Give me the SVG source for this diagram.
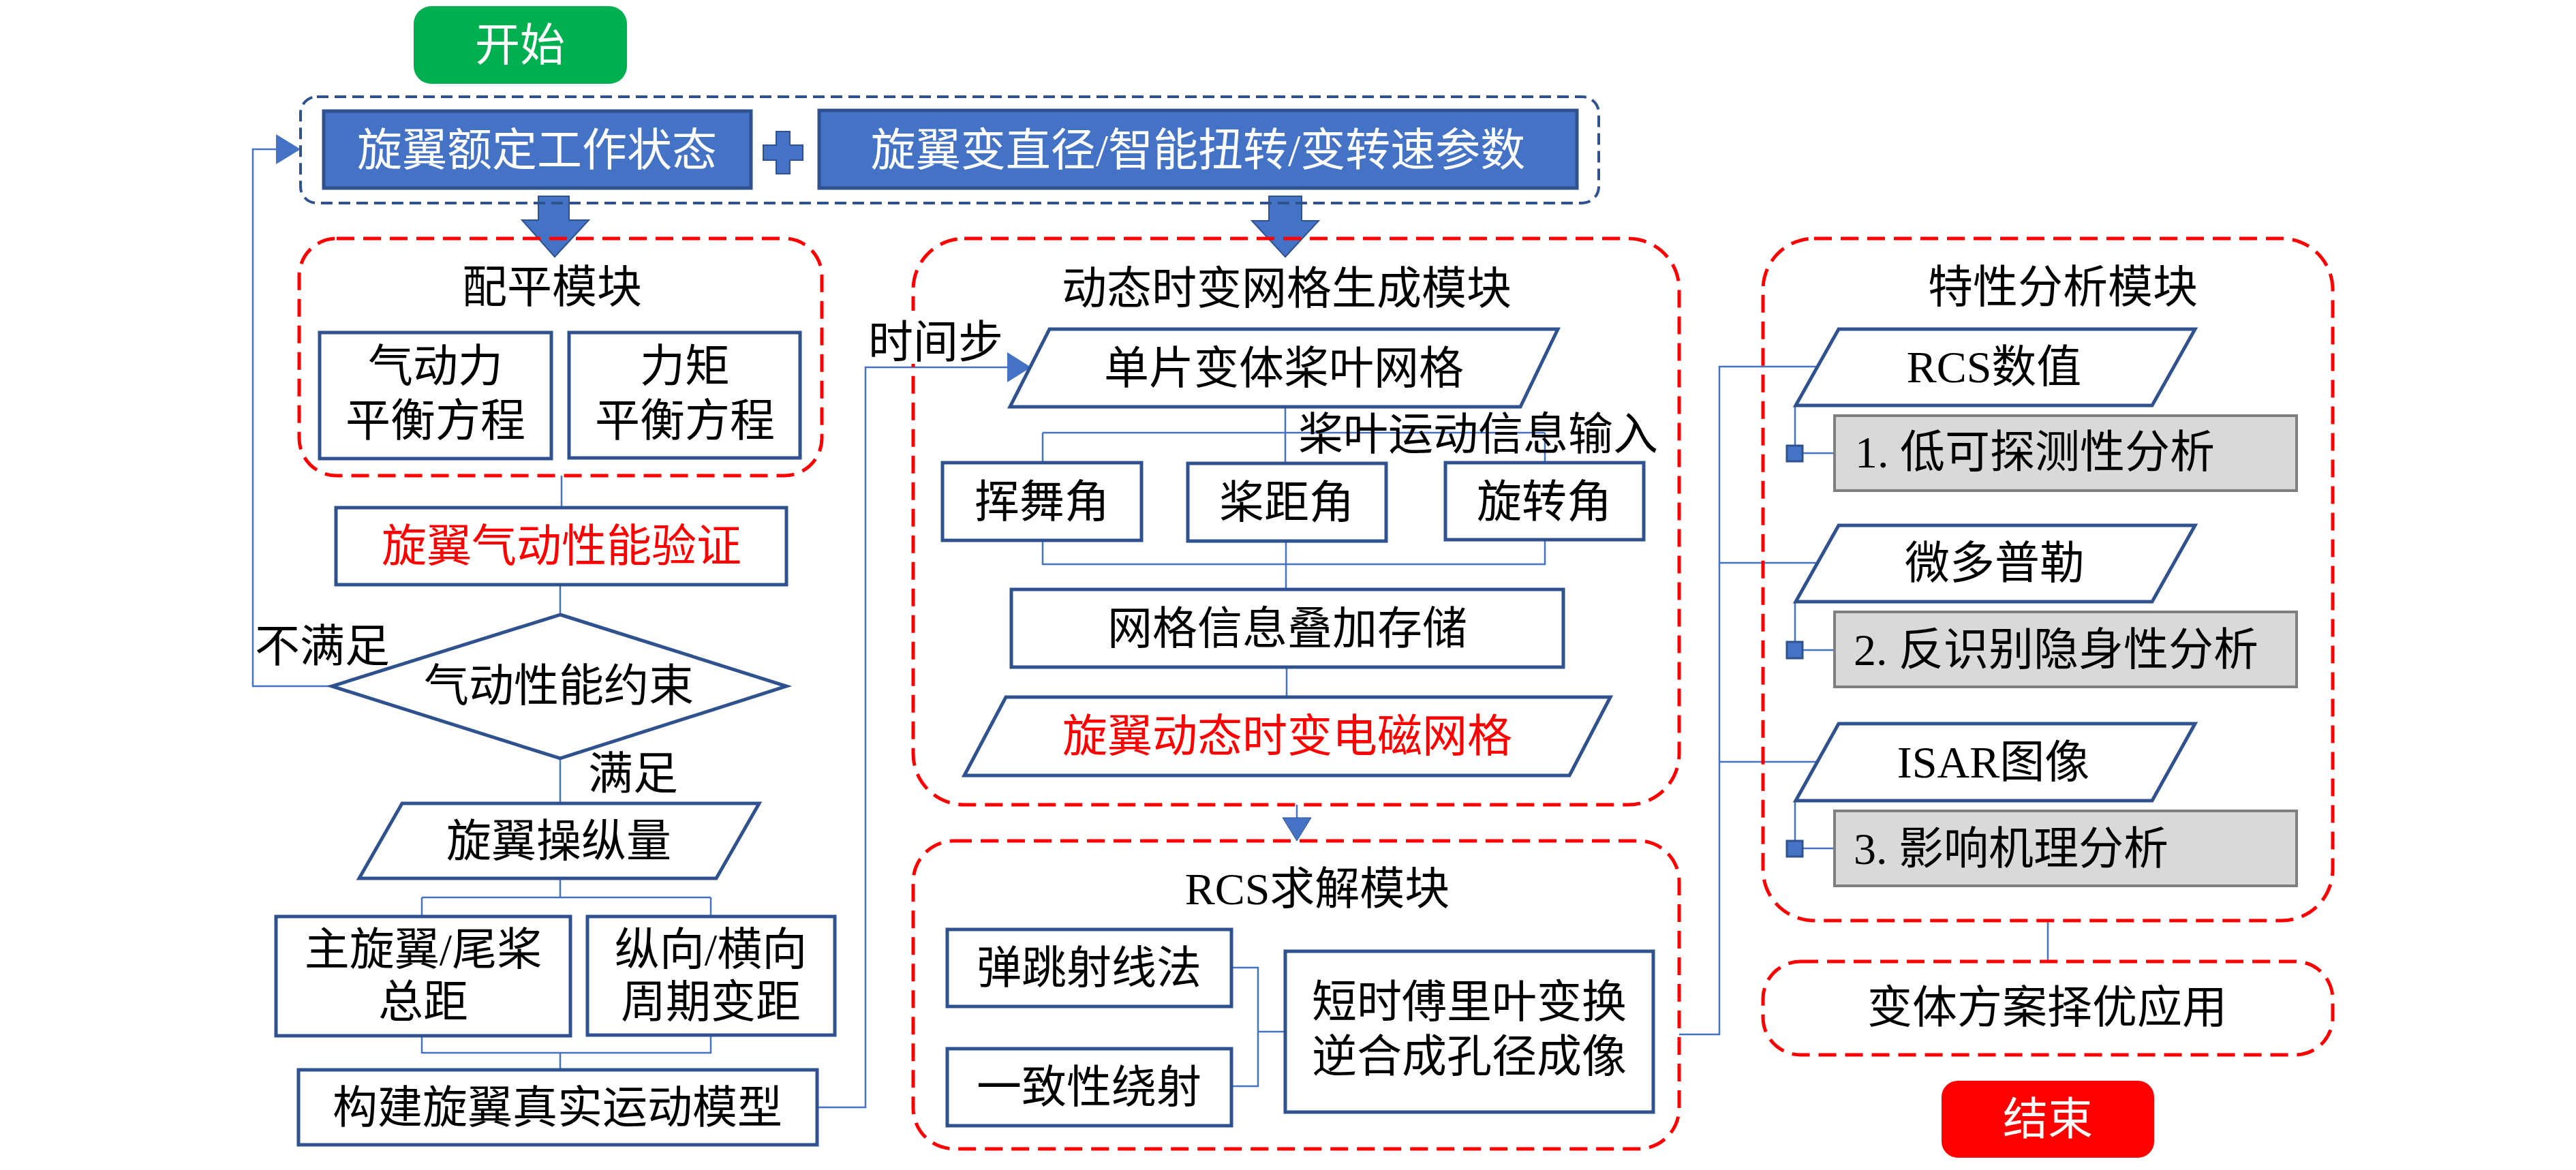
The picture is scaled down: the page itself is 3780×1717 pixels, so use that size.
<svg xmlns="http://www.w3.org/2000/svg" width="3780" height="1717" viewBox="0 0 3780 1717">
<style>
text{font-family:"Liberation Serif","Noto Sans CJK SC",serif;font-size:66px;fill:#000;text-anchor:middle;dominant-baseline:central}
.w{fill:#fff}
.r{fill:#ff0000}
.l{text-anchor:start}
.box{fill:#fff;stroke:#2F528F;stroke-width:5}
.hdr{fill:#4472C4;stroke:#2F528F;stroke-width:5}
.mod{fill:none;stroke:#ff0000;stroke-width:5;stroke-dasharray:26 13}
.gray{fill:#D9D9D9;stroke:#7F7F7F;stroke-width:4}
.sq{fill:#4472C4;stroke:#2F528F;stroke-width:3}
.c{fill:none;stroke:#4472C4;stroke-width:2.5}
.big{fill:#4472C4;stroke:#2F528F;stroke-width:2}
</style>
<rect width="3780" height="1717" fill="#fff"/>

<g id="connectors">
  <path class="c" d="M824 698 V745"/>
  <path class="c" d="M822 858 V902"/>
  <path class="c" d="M822 1113 V1178"/>
  <path class="c" d="M822 1288 V1317 M619 1317 H1043 M619 1317 V1345 M1043 1317 V1345"/>
  <path class="c" d="M619 1520 V1545 H1043 V1519 M822 1545 V1570"/>
  <path class="c" d="M487 1007 H371 V219 H405"/>
  <polygon fill="#4472C4" points="405,197 441,219 405,241"/>
  <path class="c" d="M1199 1625 H1270 V539 H1480"/>
  <polygon fill="#4472C4" points="1478,517 1513,539 1478,561"/>
  <path class="c" d="M1886 597 V679 M1530 635 H2267 M1530 635 V679 M2267 635 V679"/>
  <path class="c" d="M1530 793 V828 H2267 V792 M1887 794 V865"/>
  <path class="c" d="M1888 979 V1023"/>
  <path class="c" d="M1903 1181 V1202"/>
  <polygon fill="#4472C4" stroke="#2F528F" stroke-width="1" points="1882,1200 1924,1200 1903,1234"/>
  <path class="c" d="M1807 1420 H1846 V1594 H1807 M1846 1514 H1886"/>
  <path class="c" d="M2464 1518 H2523 V538 H2666 M2523 826 H2666 M2523 1118 H2666"/>
  <path class="c" d="M2634 595 V665 H2692 M2634 883 V954 H2692 M2634 1175 V1245 H2692"/>
  <path class="c" d="M3005 1351 V1411"/>
  <path class="big" d="M790 288 H835 V323 H864 L814 377 L766 323 H790 Z"/>
  <path class="big" d="M1862 288 H1910 V324 H1935 L1886 377 L1837 324 H1862 Z"/>
</g>

<g id="start">
  <rect x="607" y="9" width="313" height="114" rx="26" fill="#00B050"/>
  <text class="w" x="763" y="66">开始</text>
</g>

<g id="input-group">
  <rect x="441" y="142" width="1905" height="156" rx="24" fill="none" stroke="#2F528F" stroke-width="4" stroke-dasharray="17 9"/>
  <g id="rated-state">
    <rect class="hdr" x="475" y="163" width="627" height="113"/>
    <text class="w" x="788" y="220">旋翼额定工作状态</text>
  </g>
  <g id="plus">
    <path class="big" d="M1139 193 H1159 V213 H1178 V235 H1159 V255 H1139 V235 H1120 V213 H1139 Z"/>
  </g>
  <g id="variable-params">
    <rect class="hdr" x="1202" y="162" width="1112" height="114"/>
    <text class="w" x="1758" y="220">旋翼变直径/智能扭转/变转速参数</text>
  </g>
</g>

<g id="trim-module">
  <rect class="mod" x="439" y="350" width="767" height="348" rx="55"/>
  <text x="810" y="421">配平模块</text>
  <g id="aero-force">
    <rect class="box" x="469" y="488" width="340" height="185"/>
    <text x="639" y="537">气动力</text>
    <text x="639" y="617">平衡方程</text>
  </g>
  <g id="moment">
    <rect class="box" x="835" y="488" width="339" height="184"/>
    <text x="1005" y="537">力矩</text>
    <text x="1005" y="617">平衡方程</text>
  </g>
</g>

<g id="aero-verify">
  <rect class="box" x="493" y="745" width="661" height="113"/>
  <text class="r" x="824" y="801">旋翼气动性能验证</text>
</g>

<g id="aero-constraint">
  <polygon class="box" points="822,902 1154,1007 822,1113 487,1007"/>
  <text x="820" y="1006">气动性能约束</text>
</g>
<text class="l" x="374" y="948">不满足</text>
<text class="l" x="863" y="1135">满足</text>

<g id="control-input">
  <polygon class="box" points="590,1179 1114,1179 1051,1289 527,1289"/>
  <text x="820" y="1234">旋翼操纵量</text>
</g>

<g id="collective">
  <rect class="box" x="405" y="1345" width="432" height="175"/>
  <text x="621" y="1393">主旋翼/尾桨</text>
  <text x="621" y="1470">总距</text>
</g>
<g id="cyclic">
  <rect class="box" x="862" y="1345" width="363" height="174"/>
  <text x="1043" y="1393">纵向/横向</text>
  <text x="1043" y="1470">周期变距</text>
</g>

<g id="motion-model">
  <rect class="box" x="438" y="1570" width="761" height="110"/>
  <text x="818" y="1625">构建旋翼真实运动模型</text>
</g>

<g id="mesh-module">
  <rect class="mod" x="1340" y="350" width="1124" height="831" rx="75"/>
  <text x="1888" y="423">动态时变网格生成模块</text>
  <rect x="1272" y="456" width="200" height="78" fill="#fff"/>
  <text class="l" x="1274" y="502">时间步</text>
  <g id="blade-mesh">
    <polygon class="box" points="1540,483 2286,483 2231,597 1482,597"/>
    <text x="1884" y="540">单片变体桨叶网格</text>
  </g>
  <text class="l" x="1905" y="637">桨叶运动信息输入</text>
  <g id="flap">
    <rect class="box" x="1383" y="679" width="292" height="114"/>
    <text x="1529" y="736">挥舞角</text>
  </g>
  <g id="pitch">
    <rect class="box" x="1743" y="680" width="291" height="114"/>
    <text x="1888" y="737">桨距角</text>
  </g>
  <g id="rotation">
    <rect class="box" x="2121" y="679" width="291" height="113"/>
    <text x="2266" y="736">旋转角</text>
  </g>
  <g id="mesh-store">
    <rect class="box" x="1484" y="865" width="810" height="114"/>
    <text x="1889" y="922">网格信息叠加存储</text>
  </g>
  <g id="em-mesh">
    <polygon class="box" points="1476,1023 2363,1023 2303,1138 1415,1138"/>
    <text class="r" x="1889" y="1080">旋翼动态时变电磁网格</text>
  </g>
</g>

<g id="rcs-module">
  <rect class="mod" x="1340" y="1234" width="1124" height="452" rx="60"/>
  <text x="1933" y="1304">RCS求解模块</text>
  <g id="sbr">
    <rect class="box" x="1390" y="1364" width="417" height="113"/>
    <text x="1598" y="1420">弹跳射线法</text>
  </g>
  <g id="utd">
    <rect class="box" x="1390" y="1539" width="417" height="113"/>
    <text x="1598" y="1595">一致性绕射</text>
  </g>
  <g id="stft">
    <rect class="box" x="1886" y="1396" width="540" height="236"/>
    <text x="2156" y="1470">短时傅里叶变换</text>
    <text x="2156" y="1550">逆合成孔径成像</text>
  </g>
</g>

<g id="analysis-module">
  <rect class="mod" x="2587" y="350" width="836" height="1001" rx="75"/>
  <text x="3027" y="421">特性分析模块</text>
  <g id="rcs-value">
    <polygon class="box" points="2698,483 3221,483 3158,595 2635,595"/>
    <text x="2926" y="538">RCS数值</text>
  </g>
  <rect class="sq" x="2622" y="654" width="23" height="23"/>
  <g id="low-detect">
    <rect class="gray" x="2692" y="610" width="678" height="110"/>
    <text class="l" x="2722" y="663">1. 低可探测性分析</text>
  </g>
  <g id="micro-doppler">
    <polygon class="box" points="2698,771 3221,771 3158,883 2635,883"/>
    <text x="2927" y="826">微多普勒</text>
  </g>
  <rect class="sq" x="2622" y="942" width="23" height="24"/>
  <g id="anti-recog">
    <rect class="gray" x="2692" y="898" width="678" height="110"/>
    <text class="l" x="2720" y="953">2. 反识别隐身性分析</text>
  </g>
  <g id="isar">
    <polygon class="box" points="2698,1062 3221,1062 3158,1175 2635,1175"/>
    <text x="2925" y="1118">ISAR图像</text>
  </g>
  <rect class="sq" x="2622" y="1234" width="23" height="23"/>
  <g id="mechanism">
    <rect class="gray" x="2692" y="1190" width="678" height="110"/>
    <text class="l" x="2720" y="1245">3. 影响机理分析</text>
  </g>
</g>

<g id="optimization">
  <rect class="mod" x="2587" y="1411" width="836" height="137" rx="55"/>
  <text x="3004" y="1478">变体方案择优应用</text>
</g>

<g id="end">
  <rect x="2849" y="1586" width="312" height="113" rx="24" fill="#ff0000"/>
  <text class="w" x="3005" y="1642">结束</text>
</g>
</svg>
